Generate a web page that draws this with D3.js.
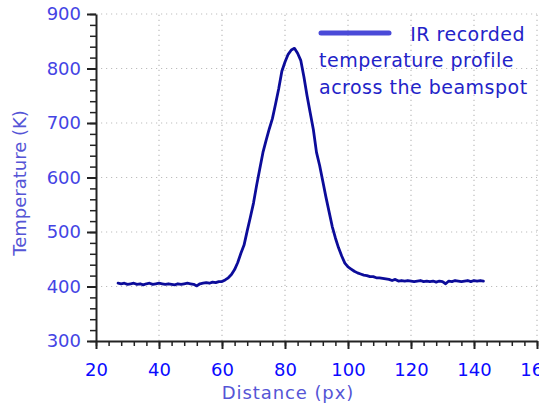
<!DOCTYPE html>
<html>
<head>
<meta charset="utf-8">
<script src="https://cdn.jsdelivr.net/npm/d3@7"></script>
<style>
  html, body { margin: 0; padding: 0; background: #fff; }
  svg { display: block; }
  text { font-family: "DejaVu Sans", sans-serif; }
</style>
</head>
<body>
<svg id="chart" width="539" height="407"></svg>
<script>
// Temperature profile across the beamspot, one reading per pixel
const distance = d3.range(27, 144);
const temperature = [
  406, 405, 406, 404, 405, 406, 404, 405, 403, 405,
  406, 404, 405, 406, 405, 404, 405, 404, 403, 405,
  404, 405, 406, 405, 404, 401, 405, 406, 407, 406,
  408, 407, 409, 409, 412, 416, 422, 431, 444, 461,
  476, 502, 527, 553, 586, 616, 646, 668, 689, 708,
  735, 763, 795, 812, 826, 834, 837, 828, 815, 785,
  750, 719, 688, 646, 622, 593, 564, 537, 510, 489,
  471, 456, 443, 436, 432, 428, 425, 423, 421, 420,
  418, 418, 416, 416, 415, 414, 413, 411, 413, 410,
  411, 410, 411, 410, 409, 410, 411, 409, 410, 409,
  410, 408, 410, 409, 405, 410, 409, 411, 410, 409,
  410, 411, 409, 411, 410, 411, 410
];

const xTicks = [20, 40, 60, 80, 100, 120, 140, 160];
const yTicks = [300, 400, 500, 600, 700, 800, 900];
const legendLines = ["IR recorded", "temperature profile", "across the beamspot"];

const svg = d3.select("#chart");
const x = d3.scaleLinear().domain([20, 160]).range([96, 537]);
const y = d3.scaleLinear().domain([300, 900]).range([341, 14]);

// dotted grid
const grid = svg.append("g")
  .attr("stroke", "#bdbdbd").attr("stroke-width", 1.2)
  .attr("stroke-dasharray", "1.2,3.8");
grid.selectAll(".gx").data(xTicks.slice(1)).join("line")
  .attr("x1", d => x(d)).attr("x2", d => x(d))
  .attr("y1", y(300)).attr("y2", y(900));
grid.selectAll(".gy").data(yTicks.slice(1)).join("line")
  .attr("x1", x(20)).attr("x2", x(160))
  .attr("y1", d => y(d)).attr("y2", d => y(d));

// minor ticks
svg.append("g").attr("transform", `translate(0,${y(300)})`)
  .call(d3.axisBottom(x).tickValues(d3.range(20, 161, 4)).tickSize(5).tickFormat(""))
  .call(g => g.select(".domain").remove())
  .call(g => g.selectAll("line").attr("stroke", "#222").attr("stroke-width", 1.5));
svg.append("g").attr("transform", `translate(${x(20)},0)`)
  .call(d3.axisLeft(y).tickValues(d3.range(300, 901, 20)).tickSize(6).tickFormat(""))
  .call(g => g.select(".domain").remove())
  .call(g => g.selectAll("line").attr("stroke", "#222").attr("stroke-width", 1.5));

// major axes
svg.append("g").attr("transform", `translate(0,${y(300)})`)
  .call(d3.axisBottom(x).tickValues(xTicks).tickSize(8).tickSizeOuter(0).tickPadding(14))
  .call(g => g.select(".domain").attr("stroke", "#222").attr("stroke-width", 2))
  .call(g => g.selectAll("line").attr("stroke", "#222").attr("stroke-width", 2))
  .call(g => g.selectAll("text").attr("fill", "#0a0aff").attr("font-size", 18)
    .attr("font-family", "DejaVu Sans"));
svg.append("g").attr("transform", `translate(${x(20)},0)`)
  .call(d3.axisLeft(y).tickValues(yTicks).tickSize(9).tickSizeOuter(0).tickPadding(6))
  .call(g => g.select(".domain").attr("stroke", "#222").attr("stroke-width", 2))
  .call(g => g.selectAll("line").attr("stroke", "#222").attr("stroke-width", 2))
  .call(g => g.selectAll("text").attr("fill", "#4444e4").attr("font-size", 18)
    .attr("font-family", "DejaVu Sans"));

// axis titles
svg.append("text").attr("x", 288).attr("y", 399).attr("text-anchor", "middle")
  .attr("fill", "#5555d6").attr("font-size", 18).attr("letter-spacing", 0.9)
  .text("Distance (px)");
svg.append("text").attr("transform", "translate(26,183) rotate(-90)")
  .attr("text-anchor", "middle").attr("fill", "#5555d6").attr("font-size", 18)
  .text("Temperature (K)");

// profile line
const line = d3.line().x((d, i) => x(distance[i])).y(d => y(d)).curve(d3.curveLinear);
svg.append("path").datum(temperature)
  .attr("d", line).attr("fill", "none")
  .attr("stroke", "#0c0c9a").attr("stroke-width", 2.8)
  .attr("stroke-linejoin", "round").attr("stroke-linecap", "round");

// legend
const lg = svg.append("g").attr("fill", "#2323c8").attr("font-size", 19)
  .attr("letter-spacing", 0.5);
lg.append("line").attr("x1", 321).attr("x2", 389).attr("y1", 33).attr("y2", 33)
  .attr("stroke", "#4a4ad8").attr("stroke-width", 5).attr("stroke-linecap", "round");
lg.append("text").attr("x", 525).attr("y", 40.5).attr("text-anchor", "end")
  .text(legendLines[0]);
lg.append("text").attr("x", 319).attr("y", 67).text(legendLines[1]);
lg.append("text").attr("x", 319).attr("y", 94).text(legendLines[2]);
</script>
</body>
</html>
